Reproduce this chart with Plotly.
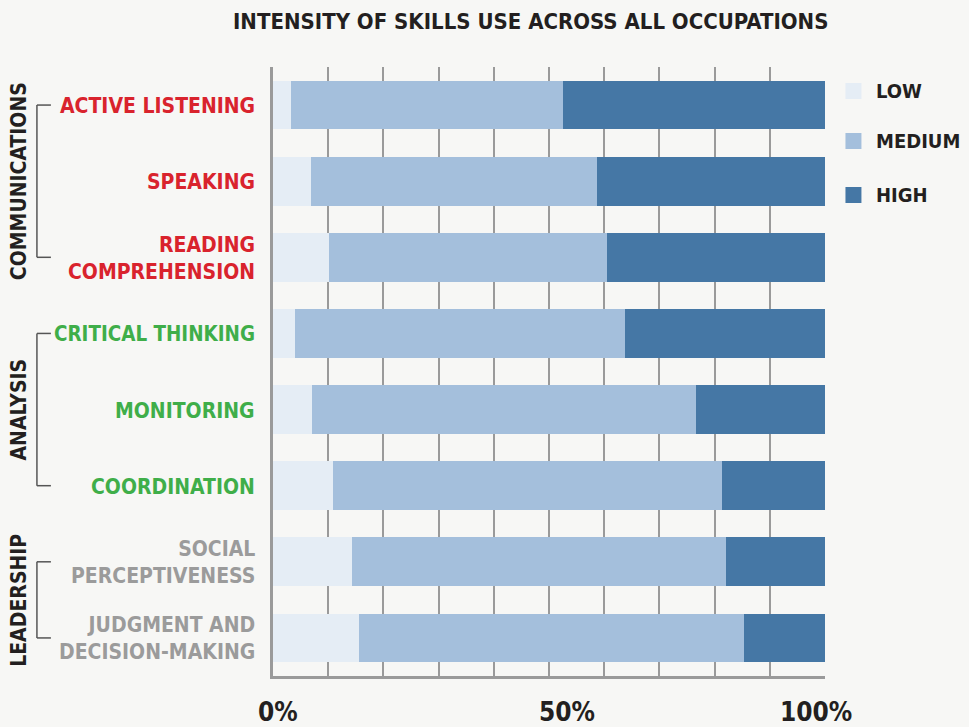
import plotly.graph_objects as go

# ---------------- data ----------------
categories = [
    "ACTIVE LISTENING",
    "SPEAKING",
    "READING<br>COMPREHENSION",
    "CRITICAL THINKING",
    "MONITORING",
    "COORDINATION",
    "SOCIAL<br>PERCEPTIVENESS",
    "JUDGMENT AND<br>DECISION-MAKING",
]
category_group = ["COMMUNICATIONS"] * 3 + ["ANALYSIS"] * 3 + ["LEADERSHIP"] * 2
low = [3.3, 6.8, 10.1, 4.0, 7.0, 10.9, 14.4, 15.6]
medium = [49.2, 51.9, 50.4, 59.7, 69.6, 70.4, 67.6, 69.8]
high = [47.5, 41.3, 39.5, 36.3, 23.4, 18.7, 18.0, 14.6]
series_names = ["LOW", "MEDIUM", "HIGH"]
x_tick_values = [0, 50, 100]
x_tick_labels = ["0%", "50%", "100%"]
title_text = "INTENSITY OF SKILLS USE ACROSS ALL OCCUPATIONS"
groups = ["COMMUNICATIONS", "ANALYSIS", "LEADERSHIP"]

# ---------------- style ----------------
FONT = "DejaVu Sans Condensed, DejaVu Sans, sans-serif"
BG = "#f7f7f5"
DARK = "#231f20"
series_colors = ["#e5edf5", "#a4bfdc", "#4577a5"]
group_colors = {"COMMUNICATIONS": "#d9232d", "ANALYSIS": "#3fae49", "LEADERSHIP": "#9b9b9b"}
GRID = "#9a9a9a"

W_FIG, H_FIG = 969, 727
L, R, T, B = 272.5, 825.5, 67, 676
PW, PH = R - L, B - T


def px(p):
    return (p - L) / PW


def py(p):
    return (B - p) / PH


fig = go.Figure()
for name, vals, col in zip(series_names, [low, medium, high], series_colors):
    fig.add_trace(go.Bar(
        y=categories, x=vals, name=name, orientation="h",
        marker=dict(color=col, line=dict(width=0)),
        width=0.64, showlegend=False,
    ))

annotations = []
shapes = []

# category labels
for cat, grp in zip(categories, category_group):
    annotations.append(dict(
        xref="paper", yref="y", x=0, y=cat, xanchor="right", yanchor="middle",
        xshift=-16, yshift=-1, text=cat, showarrow=False, align="right",
        font=dict(family=FONT, size=21 if cat != "CRITICAL THINKING" else 20.4,
                  color=group_colors[grp], weight="bold"),
    ))

# group labels and brackets
for grp in groups:
    idx = [i for i, g in enumerate(category_group) if g == grp]
    first, last = idx[0], idx[-1]
    center = (first + last) / 2
    annotations.append(dict(
        xref="paper", yref="y", x=px(18), y=center, xanchor="center", yanchor="middle",
        text=grp, textangle=-90, showarrow=False,
        font=dict(family=FONT, size=21, color=DARK, weight="bold"),
    ))
    bx, tx = px(36), px(50)
    shapes.append(dict(type="line", xref="paper", yref="y", x0=bx, x1=bx, y0=first, y1=last,
                       line=dict(color="#555555", width=1.5)))
    for yy in (first, last):
        shapes.append(dict(type="line", xref="paper", yref="y", x0=bx, x1=tx, y0=yy, y1=yy,
                           line=dict(color="#555555", width=1.5)))

# x tick labels
tick_shift = [5, 18, -9]
for v, t, s in zip(x_tick_values, x_tick_labels, tick_shift):
    annotations.append(dict(
        xref="x", yref="paper", x=v, y=py(712), xanchor="center", yanchor="middle",
        xshift=s, text=t, showarrow=False,
        font=dict(family=FONT, size=26, color=DARK, weight="bold"),
    ))

# title
annotations.append(dict(
    xref="paper", yref="paper", x=px(530), y=py(22), xanchor="center", yanchor="middle",
    text=title_text, showarrow=False,
    font=dict(family=FONT, size=22, color=DARK, weight="bold"),
))

# legend (manual)
legend_y = [91, 141, 195]
for name, col, ly in zip(series_names, series_colors, legend_y):
    shapes.append(dict(type="rect", xref="paper", yref="paper",
                       x0=px(846), x1=px(862), y0=py(ly + 8), y1=py(ly - 8),
                       fillcolor=col, line=dict(width=0)))
    annotations.append(dict(
        xref="paper", yref="paper", x=px(875), y=py(ly), xanchor="left", yanchor="middle",
        text=name, showarrow=False,
        font=dict(family=FONT, size=20, color=DARK, weight="bold"),
    ))

fig.update_layout(
    width=W_FIG, height=H_FIG,
    margin=dict(l=L, r=W_FIG - R, t=T, b=H_FIG - B, pad=0),
    paper_bgcolor=BG, plot_bgcolor=BG,
    barmode="stack", bargap=0.36,
    annotations=annotations, shapes=shapes,
    xaxis=dict(range=[0, 100], tickvals=list(range(0, 100, 10)), showticklabels=False,
               showgrid=True, gridcolor=GRID, gridwidth=2, zeroline=False,
               showline=True, linecolor=GRID, linewidth=3, ticks=""),
    yaxis=dict(categoryorder="array", categoryarray=categories, range=[7.5, -0.5],
               showticklabels=False, showgrid=False, zeroline=False,
               showline=True, linecolor=GRID, linewidth=3, ticks=""),
)

fig.write_html(
    "out.html",
    config={"displayModeBar": False},
    post_script="document.body.style.margin='0';document.body.style.overflow='hidden';"
                "document.body.style.background='#f7f7f5';",
)
